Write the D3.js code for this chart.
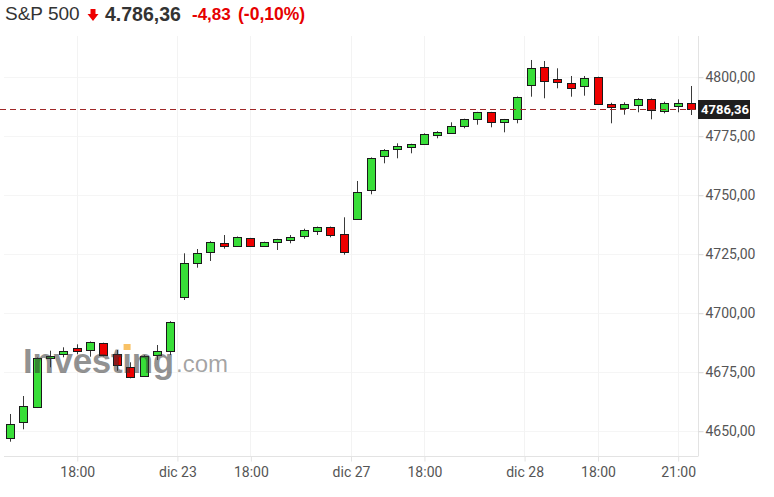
<!DOCTYPE html>
<html><head><meta charset="utf-8">
<script src="https://cdn.jsdelivr.net/npm/d3@7"></script>
<style>
body{margin:0;background:#fff;}
svg{display:block;font-family:"Liberation Sans",Arial,sans-serif;}
</style>
</head><body>
<svg id="c" width="774" height="497"></svg>
<script>
// ---- data (30-minute candles) ----
const opens  = [4646.61,4653.69,4659.92,4680.81,4682.50,4684.92,4684.32,4687.03,4682.37,4676.86,4673.31,4682.08,4684.07,4706.53,4720.76,4726.02,4729.41,4728.18,4731.53,4728.26,4729.83,4730.81,4732.20,4734.49,4736.31,4733.22,4739.58,4751.86,4766.40,4769.49,4770.08,4771.61,4775.30,4776.44,4778.98,4781.95,4784.92,4780.68,4781.95,4796.48,4803.98,4798.90,4797.20,4795.93,4799.75,4788.31,4786.61,4788.14,4790.55,4785.34,4787.58,4788.73];
const highs  = [4657.08,4664.70,4681.00,4683.90,4685.34,4686.61,4687.80,4687.30,4684.19,4678.98,4682.00,4686.31,4696.40,4725.17,4726.99,4730.30,4732.92,4732.30,4731.70,4730.10,4731.30,4732.92,4735.59,4736.50,4736.50,4740.42,4755.81,4765.80,4769.30,4771.78,4771.60,4776.00,4776.90,4780.68,4782.20,4785.10,4785.10,4782.10,4791.60,4807.08,4806.65,4803.56,4800.30,4800.30,4800.00,4788.98,4789.15,4790.90,4790.80,4789.41,4790.42,4796.06];
const lows   = [4645.34,4650.59,4659.60,4676.86,4681.10,4682.37,4681.36,4681.50,4675.42,4672.20,4673.00,4679.96,4682.08,4705.38,4719.07,4721.91,4727.12,4728.00,4728.00,4728.10,4726.57,4729.41,4731.36,4732.92,4731.95,4724.58,4739.28,4750.17,4763.31,4765.42,4767.54,4771.40,4773.90,4775.85,4778.14,4779.66,4778.56,4776.44,4780.25,4791.53,4790.85,4795.08,4791.53,4791.95,4788.10,4780.25,4783.90,4784.92,4781.95,4784.49,4784.92,4783.77];
const closes = [4652.71,4660.59,4680.68,4681.78,4683.77,4683.77,4687.58,4681.78,4677.54,4672.63,4681.78,4683.77,4696.19,4720.93,4725.17,4730.08,4727.97,4732.08,4728.18,4729.96,4731.10,4732.08,4734.92,4736.31,4732.80,4725.42,4751.14,4765.55,4769.07,4770.76,4771.36,4775.85,4776.69,4779.24,4781.95,4784.92,4780.68,4781.95,4791.40,4803.56,4798.05,4797.63,4794.92,4799.32,4788.31,4787.03,4788.31,4790.68,4785.89,4788.73,4788.73,4786.36];

const xTickIndex  = [5, 12.5, 18, 25.5, 31, 38.5, 44, 50];
const xTickLabels = ["18:00","dic 23","18:00","dic 27","18:00","dic 28","18:00","21:00"];
const yTicks = [4650, 4675, 4700, 4725, 4750, 4775, 4800];
const lastPrice = 4786.36;

const titleName   = "S&P 500";
const titlePrice  = "4.786,36";
const titleChange = "-4,83";
const titlePct    = "(-0,10%)";

// ---- layout ----
const svg = d3.select("#c");
const plotLeft = 4, plotRight = 698, plotTop = 36, plotBottom = 456;
const n = opens.length;
const x = d3.scaleLinear().domain([0, n - 1]).range([10, 691]);
const y = d3.scaleLinear().domain([4650, 4800]).range([430.7, 76.7]);
const loc = d3.formatLocale({decimal: ",", thousands: "", grouping: [3]});
const fmt = loc.format(".2f");

const GREEN = "#38de38", RED = "#ee0000";

// grid
const grid = svg.append("g");
grid.selectAll("line.h").data(yTicks).join("line")
  .attr("x1", plotLeft).attr("x2", plotRight)
  .attr("y1", d => Math.round(y(d)) + 0.5).attr("y2", d => Math.round(y(d)) + 0.5)
  .attr("stroke", "#f5f5f5");
grid.selectAll("line.v").data(xTickIndex).join("line")
  .attr("x1", d => Math.round(x(d)) + 0.5).attr("x2", d => Math.round(x(d)) + 0.5)
  .attr("y1", plotTop).attr("y2", plotBottom)
  .attr("stroke", "#f3f3f3");

// axes frame
svg.append("line").attr("x1", plotLeft).attr("x2", plotRight + 0.5)
  .attr("y1", plotBottom + 0.5).attr("y2", plotBottom + 0.5).attr("stroke", "#e3e3e3");
svg.append("line").attr("x1", plotRight + 0.5).attr("x2", plotRight + 0.5)
  .attr("y1", plotTop).attr("y2", plotBottom).attr("stroke", "#e3e3e3");

// x axis
const xAxis = d3.axisBottom(x).tickValues(xTickIndex)
  .tickFormat((d, i) => xTickLabels[i]).tickSize(5).tickPadding(6);
const gx = svg.append("g").attr("transform", `translate(0.5,${plotBottom + 0.5})`).call(xAxis);
gx.select(".domain").remove();
gx.selectAll(".tick line").attr("stroke", "#e3e3e3");
gx.selectAll(".tick text").attr("fill", "#555").attr("font-size", 14)
  .attr("font-family", "Roboto, sans-serif");

// y axis
const yAxis = d3.axisRight(y).tickValues(yTicks).tickFormat(fmt).tickSize(5).tickPadding(2);
const gy = svg.append("g").attr("transform", `translate(${plotRight + 0.5},0.5)`).call(yAxis);
gy.select(".domain").remove();
gy.selectAll(".tick line").attr("stroke", "#d8d8d8");
gy.selectAll(".tick text").attr("fill", "#555").attr("font-size", 14)
  .attr("font-family", "Roboto, sans-serif");

// candles
const idx = d3.range(n);
const cg = svg.append("g");
cg.selectAll("line.wick").data(idx).join("line")
  .attr("x1", i => Math.round(x(i)) + 0.5).attr("x2", i => Math.round(x(i)) + 0.5)
  .attr("y1", i => y(highs[i])).attr("y2", i => y(lows[i]))
  .attr("stroke", "#3a3a3a").attr("stroke-width", 1);
cg.selectAll("rect.body").data(idx).join("rect")
  .attr("x", i => Math.round(x(i)) - 3.5)
  .attr("width", 8)
  .attr("y", i => Math.round(y(Math.max(opens[i], closes[i]))) + 0.5)
  .attr("height", i => Math.max(1, Math.round(Math.abs(y(opens[i]) - y(closes[i])))))
  .attr("fill", i => closes[i] >= opens[i] ? GREEN : RED)
  .attr("stroke", "#1a1a1a").attr("stroke-width", 1);

// last price dashed line + label
const yl = Math.round(y(lastPrice)) + 0.5;
svg.append("line").attr("x1", 0).attr("x2", plotRight).attr("y1", yl).attr("y2", yl)
  .attr("stroke", "#a02828").attr("stroke-dasharray", "6,4");
svg.append("rect").attr("x", plotRight).attr("y", yl - 9.5).attr("width", 52).attr("height", 19)
  .attr("fill", "#1e1e1e");
svg.append("text").attr("x", plotRight + 3).attr("y", yl + 4.5)
  .attr("fill", "#fff").attr("font-size", 13).attr("font-weight", "bold")
  .attr("font-family", "Roboto, sans-serif")
  .text(fmt(lastPrice));

// watermark
const wm = svg.append("g").attr("pointer-events", "none");
const wmText = wm.append("text").attr("x", 23).attr("y", 373)
  .attr("font-size", 35).attr("font-weight", "bold").attr("letter-spacing", -0.3)
  .attr("fill", "#333").attr("fill-opacity", 0.55)
  .text("Invest\u0131ng");
const wt = wmText.node();
const dotX = 23 + wt.getSubStringLength(0, 6) + wt.getSubStringLength(6, 1) / 2;
wm.append("rect").attr("x", dotX - 3.5).attr("y", 344).attr("width", 7).attr("height", 6)
  .attr("fill", "#f5a623").attr("fill-opacity", 0.7);
wm.append("text").attr("x", 176).attr("y", 372)
  .attr("font-size", 24).attr("fill", "#333").attr("fill-opacity", 0.45)
  .text(".com");

// header
svg.append("text").attr("x", 5).attr("y", 20).attr("font-size", 19).attr("fill", "#333")
  .text(titleName);
svg.append("path")
  .attr("d", "M90.5,9 L95.5,9 L95.5,14 L98.5,14 L93,21 L87.5,14 L90.5,14 Z")
  .attr("fill", RED);
svg.append("text").attr("x", 105).attr("y", 20.5).attr("font-size", 19.5).attr("font-weight", "bold")
  .attr("fill", "#333").text(titlePrice);
svg.append("text").attr("x", 192).attr("y", 20).attr("font-size", 17).attr("font-weight", "bold")
  .attr("fill", "#e60000").text(titleChange);
svg.append("text").attr("x", 238).attr("y", 20).attr("font-size", 17.5).attr("font-weight", "bold")
  .attr("fill", "#e60000").text(titlePct);
</script>
</body></html>
